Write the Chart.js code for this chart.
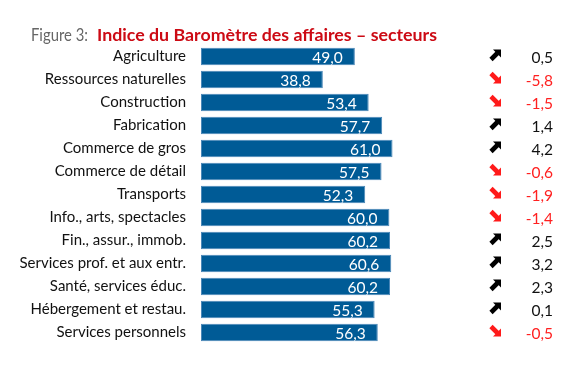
<!DOCTYPE html>
<html>
<head>
<meta charset="utf-8">
<script src="https://cdn.jsdelivr.net/npm/chart.js@4"></script>
<style>
  html, body { margin: 0; padding: 0; background: #fff; }
  #wrap { width: 570px; height: 380px; position: relative; }
</style>
</head>
<body>
<div id="wrap"><canvas id="chart"></canvas></div>
<script>
var sectors = ["Agriculture", "Ressources naturelles", "Construction", "Fabrication",
  "Commerce de gros", "Commerce de détail", "Transports", "Info., arts, spectacles",
  "Fin., assur., immob.", "Services prof. et aux entr.", "Santé, services éduc.",
  "Hébergement et restau.", "Services personnels"];
var indexValues = [49.0, 38.8, 53.4, 57.7, 61.0, 57.5, 52.3, 60.0, 60.2, 60.6, 60.2, 55.3, 56.3];
var changes = [0.5, -5.8, -1.5, 1.4, 4.2, -0.6, -1.9, -1.4, 2.5, 3.2, 2.3, 0.1, -0.5];
var figLabel = "Figure 3:";
var figTitle = "Indice du Baromètre des affaires – secteurs";

var FONT = "Lato, 'Liberation Sans', sans-serif";

function fmt(v) {
  return v.toFixed(1).replace(".", ",");
}

// thick wingdings-like diagonal arrow, about 10x10 px
function drawArrow(ctx, cx, cy, up, color) {
  ctx.save();
  ctx.fillStyle = color;
  ctx.strokeStyle = color;
  ctx.lineWidth = 4.6;
  ctx.lineCap = "butt";
  var d = up ? -1 : 1;
  ctx.beginPath();
  ctx.moveTo(cx - 4.5, cy - 4.5 * d);
  ctx.lineTo(cx + 2, cy + 2 * d);
  ctx.stroke();
  ctx.beginPath();
  ctx.moveTo(cx + 5.5, cy + 5.5 * d);
  ctx.lineTo(cx - 2.5, cy + 5.5 * d);
  ctx.lineTo(cx + 5.5, cy - 2.5 * d);
  ctx.closePath();
  ctx.fill();
  ctx.restore();
}

// draw text squeezed/stretched horizontally to a given width
function fitText(ctx, txt, x, y, width) {
  var w = ctx.measureText(txt).width;
  ctx.save();
  ctx.translate(x, y);
  ctx.scale(width / w, 1);
  ctx.fillText(txt, 0, 0);
  ctx.restore();
}

var extras = {
  id: "extras",
  afterDatasetsDraw: function (chart) {
    var ctx = chart.ctx;
    var meta = chart.getDatasetMeta(0);
    var ys = chart.scales.y;
    ctx.save();
    // values inside bars
    ctx.font = "15.5px " + FONT;
    ctx.fillStyle = "#ffffff";
    ctx.textAlign = "right";
    ctx.textBaseline = "middle";
    meta.data.forEach(function (bar, i) {
      ctx.fillText(fmt(indexValues[i]), bar.x - 12, bar.y + 1);
    });
    // change column
    changes.forEach(function (c, i) {
      var y = ys.getPixelForValue(i);
      var neg = c < 0;
      drawArrow(ctx, 495.5, y - 1.5, !neg, neg ? "#ff1a1a" : "#000000");
      ctx.font = "15.5px " + FONT;
      ctx.fillStyle = neg ? "#ff2020" : "#111111";
      ctx.textAlign = "right";
      ctx.fillText(fmt(c), 553, y + 1);
    });
    // title
    ctx.textAlign = "left";
    ctx.textBaseline = "alphabetic";
    ctx.font = "17px " + FONT;
    ctx.fillStyle = "#666666";
    fitText(ctx, figLabel, 31, 41, 57);
    ctx.font = "bold 17.5px " + FONT;
    ctx.fillStyle = "#cc0a14";
    fitText(ctx, figTitle, 97, 41, 340);
    ctx.restore();
  }
};

new Chart(document.getElementById("chart"), {
  type: "bar",
  data: {
    labels: sectors,
    datasets: [{
      data: indexValues,
      backgroundColor: "#005b96",
      borderColor: "#4a87b8",
      borderWidth: 1,
      borderSkipped: false,
      categoryPercentage: 1,
      barPercentage: 0.76
    }]
  },
  options: {
    indexAxis: "y",
    responsive: true,
    maintainAspectRatio: false,
    animation: false,
    layout: { padding: { top: 45, bottom: 36, left: 0, right: 120 } },
    plugins: { legend: { display: false }, tooltip: { enabled: false } },
    scales: {
      x: { display: false, min: 0, max: 79.3 },
      y: {
        grid: { display: false, drawTicks: false },
        border: { display: false },
        ticks: { color: "#111111", font: { family: FONT, size: 15 }, padding: 15 },
        afterFit: function (scale) { scale.width = 201; }
      }
    }
  },
  plugins: [extras]
});
</script>
</body>
</html>
